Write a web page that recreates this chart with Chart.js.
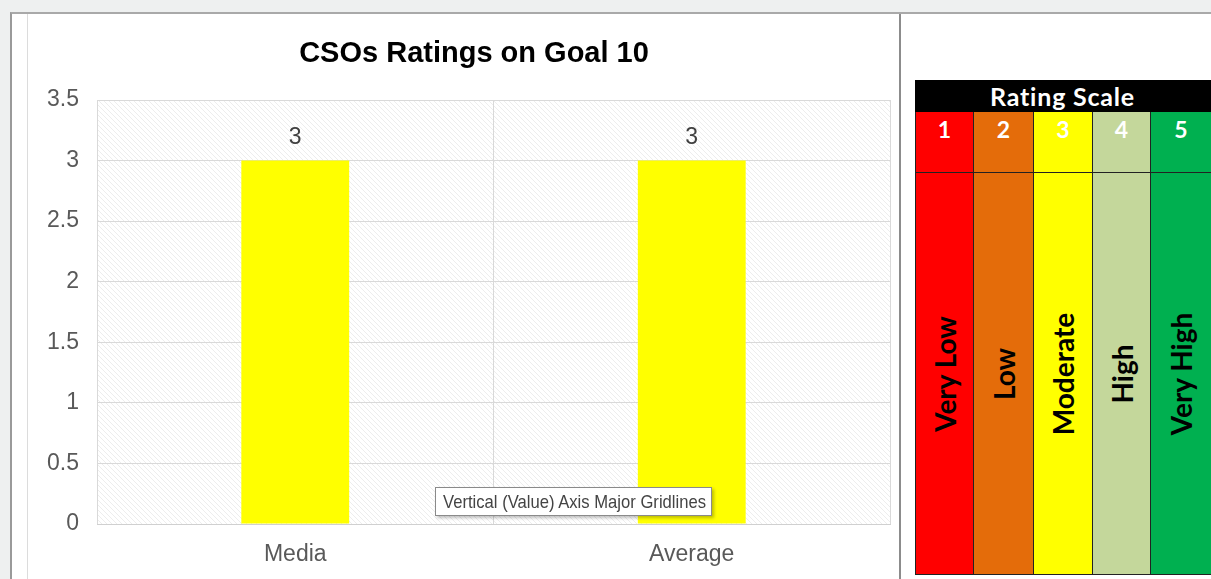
<!DOCTYPE html>
<html>
<head>
<meta charset="utf-8">
<script src="https://cdn.jsdelivr.net/npm/chart.js@4.4.1/dist/chart.umd.min.js"></script>
<style>
  html, body { margin: 0; padding: 0; }
  body { width: 1211px; height: 579px; position: relative; overflow: hidden; background: #eef0f0; font-family: "Liberation Sans", Arial, sans-serif; }
  #sheet { position: absolute; left: 10px; top: 12px; width: 1201px; height: 567px; background: #fff; border-top: 2px solid #a9a9a9; border-left: 2px solid #9a9a9a; box-sizing: border-box; }
  #innerLine { position: absolute; left: 27px; top: 14px; width: 1px; height: 565px; background: #dcdcdc; }
  #divider { position: absolute; left: 899px; top: 14px; width: 2px; height: 565px; background: #8c8c8c; }
  #chartBox { position: absolute; left: 28px; top: 15px; width: 870px; height: 564px; }
  #tip { position: absolute; left: 435px; top: 487px; width: 277px; height: 29px; box-sizing: border-box; border: 1px solid #8a8a8a; background: #fff; box-shadow: 2px 2px 3px rgba(0,0,0,0.25); color: #444; overflow: hidden; }
  #tip span { position: absolute; left: 7px; top: 0; font-family: "Liberation Sans", Arial, sans-serif; font-size: 19px; line-height: 28px; white-space: nowrap; transform: scaleX(0.875); transform-origin: 0 50%; }
  #scale { position: absolute; left: 915px; top: 80px; width: 300px; height: 495px; font-family: Lato, "Open Sans", sans-serif; font-weight: 700; }
  #scaleHead { position: absolute; left: 0; top: 0; width: 300px; height: 32px; background: #000; color: #fff; font-size: 25px; letter-spacing: 0.8px; line-height: 32px; text-indent: 75px; }
  .col { position: absolute; top: 32px; height: 463px; box-sizing: border-box; border-left: 1px solid #222; border-bottom: 1px solid #222; }
  .num { position: absolute; left: 0; top: 0; width: 100%; height: 61px; box-sizing: border-box; border-bottom: 1px solid #222; color: #fff; text-align: center; font-size: 23px; line-height: 23px; padding-top: 6px; }
  .lab { position: absolute; left: 0; top: 61px; width: 100%; height: 401px; }
  .lab span { position: absolute; left: 50%; top: 50%; transform: translate(-50%, -50%) rotate(-90deg); white-space: nowrap; font-size: 28px; color: #000; }
</style>
</head>
<body>
<div id="sheet"></div>
<div id="innerLine"></div>
<div id="divider"></div>
<div id="chartBox"><canvas id="chart" width="870" height="564"></canvas></div>
<div id="tip"><span>Vertical (Value) Axis Major Gridlines</span></div>
<div id="scale"><div id="scaleHead">Rating Scale</div></div>
<script>
var chartTitle = 'CSOs Ratings on Goal 10';
var categories = ['Media', 'Average'];
var ratings = [3, 3];
var yTicks = [0, 0.5, 1, 1.5, 2, 2.5, 3, 3.5];

var scaleNumbers = ['1', '2', '3', '4', '5'];
var scaleLabels = ['Very Low', 'Low', 'Moderate', 'High', 'Very High'];
var scaleColors = ['#ff0000', '#e46c0a', '#ffff00', '#c4d79b', '#00b050'];
var scaleWidths = [58, 60, 59, 58, 61];

// rating scale table on the right
var scaleDiv = document.getElementById('scale');
var x = 0;
for (var i = 0; i < scaleNumbers.length; i++) {
	var col = document.createElement('div');
	col.className = 'col';
	col.style.left = x + 'px';
	col.style.width = scaleWidths[i] + 'px';
	col.style.background = scaleColors[i];
	col.innerHTML = '<div class="num">' + scaleNumbers[i] + '</div><div class="lab"><span>' + scaleLabels[i] + '</span></div>';
	scaleDiv.appendChild(col);
	x += scaleWidths[i];
}

// hatched plot background like the excel pattern fill
function makeHatch() {
	var c = document.createElement('canvas');
	c.width = 5; c.height = 5;
	var g = c.getContext('2d');
	g.fillStyle = '#ffffff';
	g.fillRect(0, 0, 5, 5);
	g.strokeStyle = '#ededed';
	g.lineWidth = 1;
	g.beginPath();
	g.moveTo(-1, -1); g.lineTo(6, 6);
	g.moveTo(-1, 4); g.lineTo(1, 6);
	g.moveTo(4, -1); g.lineTo(6, 1);
	g.stroke();
	return g.createPattern(c, 'repeat');
}

var hatchBg = {
	id: 'hatchBg',
	beforeDraw: function(chart) {
		var ctx = chart.ctx, a = chart.chartArea;
		ctx.save();
		ctx.fillStyle = makeHatch();
		ctx.fillRect(a.left, a.top, a.right - a.left, a.bottom - a.top);
		ctx.restore();
	}
};

// title sits a bit left of the plot centre, as in the original
var chartTitlePlugin = {
	id: 'chartTitlePlugin',
	afterDraw: function(chart) {
		var ctx = chart.ctx;
		ctx.save();
		ctx.fillStyle = '#000';
		ctx.font = 'bold 29px "Liberation Sans", Arial, sans-serif';
		ctx.textAlign = 'center';
		ctx.textBaseline = 'middle';
		ctx.fillText(chartTitle, 446, 39);
		ctx.restore();
	}
};

var valueLabels = {
	id: 'valueLabels',
	afterDatasetsDraw: function(chart) {
		var ctx = chart.ctx;
		var meta = chart.getDatasetMeta(0);
		ctx.save();
		ctx.fillStyle = '#404040';
		ctx.font = '23px "Liberation Sans", Arial, sans-serif';
		ctx.textAlign = 'center';
		ctx.textBaseline = 'middle';
		meta.data.forEach(function(bar, i) {
			ctx.fillText(String(ratings[i]), bar.x, bar.y - 23);
		});
		ctx.restore();
	}
};

var ctx = document.getElementById('chart').getContext('2d');
var chart = new Chart(ctx, {
	type: 'bar',
	data: {
		labels: categories,
		datasets: [{
			label: 'Rating',
			data: ratings,
			backgroundColor: '#ffff00',
			borderWidth: 0,
			categoryPercentage: 1,
			barPercentage: 0.272
		}]
	},
	options: {
		responsive: false,
		animation: false,
		layout: { padding: { left: 0, right: 8, top: 85, bottom: 0 } },
		plugins: {
			legend: { display: false },
			tooltip: { enabled: false },
			title: { display: false }
		},
		scales: {
			x: {
				afterFit: function(s) { s.height = 55; },
				grid: { color: '#d9d9d9', offset: true, tickLength: 0 },
				border: { color: '#d0d0d0' },
				ticks: { color: '#595959', font: { family: '"Liberation Sans", Arial, sans-serif', size: 23 }, padding: 17 }
			},
			y: {
				min: 0,
				max: 3.5,
				afterFit: function(s) { s.width = 69; },
				afterBuildTicks: function(s) { s.ticks = yTicks.map(function(v) { return { value: v }; }); },
				grid: { color: '#d9d9d9', tickLength: 0 },
				border: { display: false },
				ticks: {
					color: '#595959',
					font: { family: '"Liberation Sans", Arial, sans-serif', size: 23 },
					padding: 18,
					callback: function(v) { return String(v); }
				}
			}
		}
	},
	plugins: [hatchBg, valueLabels, chartTitlePlugin]
});
</script>
</body>
</html>
